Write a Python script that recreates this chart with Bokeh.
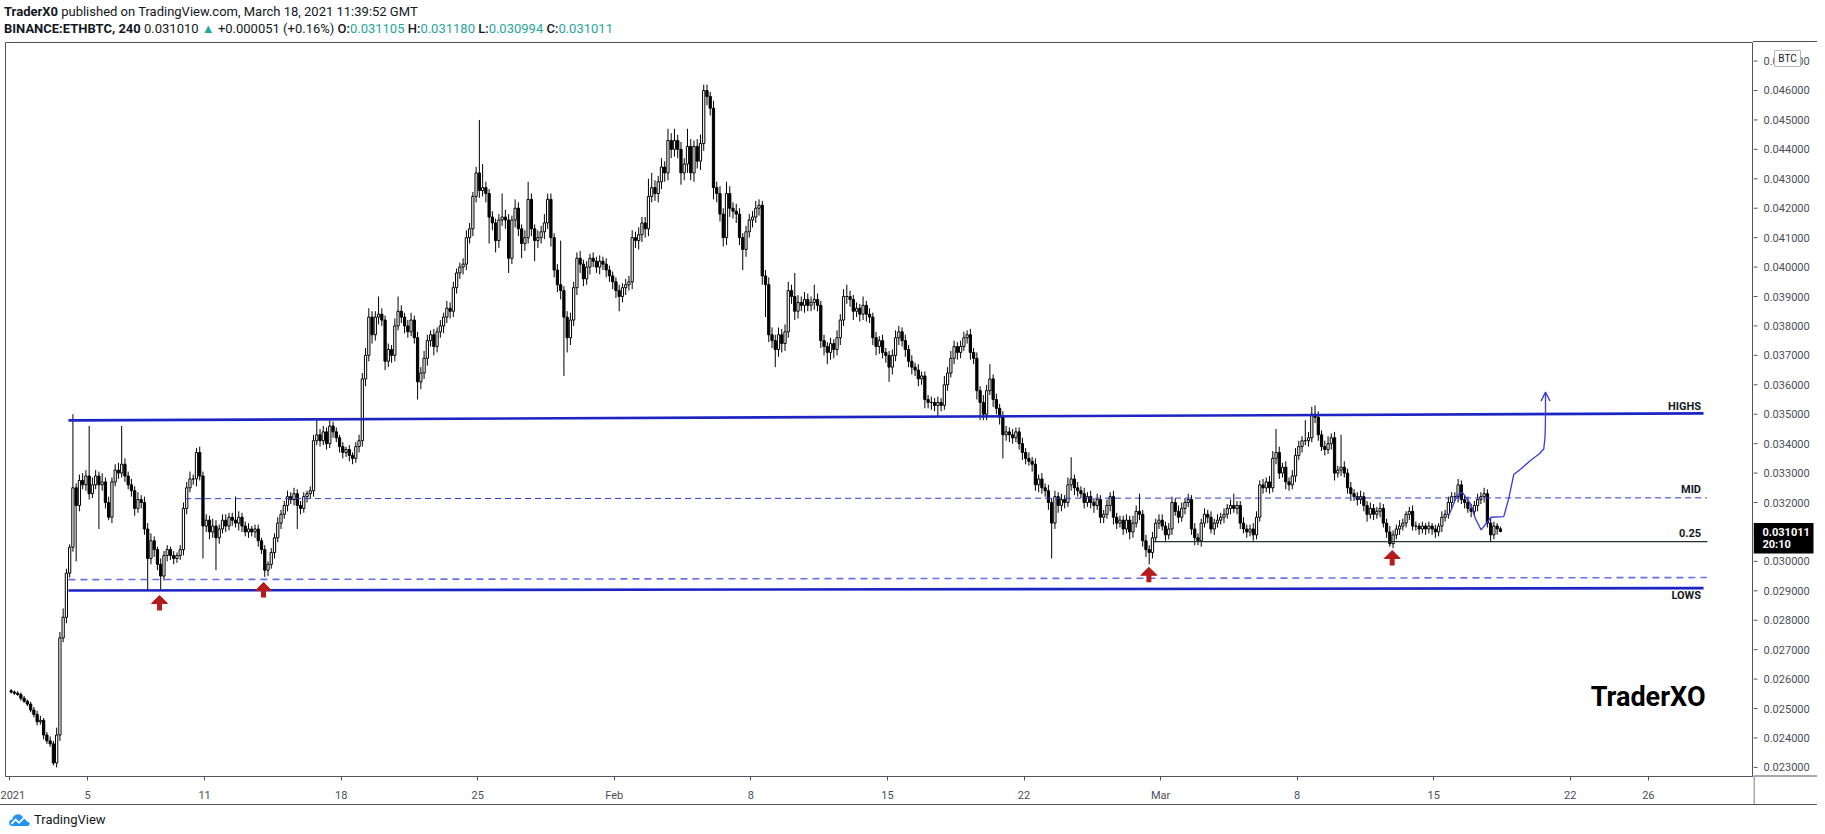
import numpy as np
from bokeh.plotting import figure
from bokeh.models import (Range1d, FixedTicker, Div, ColumnDataSource, Arrow, OpenHead)
from bokeh.layouts import column, row
from bokeh.embed import file_html
from bokeh.resources import INLINE
from bokeh.core.properties import value

FONT = "Roboto"
INK = "#131722"
AXIS = "#50535e"

# ---------------- data: ETHBTC 4h candles from 2021-01-01 00:00 UTC, in 1e-6 BTC ----------------
first_open = 25600
closes = [
    25560, 25520, 25480, 25350, 25250, 25150,
    24950, 24800, 24550, 24600, 24100, 23900,
    23800, 23150, 24100, 27400, 28100, 29600,
    30480, 32500, 31900, 32750, 32600, 32900,
    32300, 32600, 32900, 32600, 32700, 32000,
    31500, 32700, 33100, 33000, 33300, 32900,
    32600, 32400, 31800, 32100, 32000, 31100,
    30100, 30700, 30400, 29900, 29500, 30200,
    30400, 30200, 30100, 30200, 30400, 31800,
    32500, 32800, 32800, 33700, 32900, 31200,
    31400, 31000, 31200, 30800, 31100, 31400,
    31200, 31500, 31400, 31300, 31500, 31200,
    31000, 31100, 31000, 31100, 30700, 30400,
    29700, 29900, 30300, 30800, 31300, 31600,
    31900, 32200, 32100, 32300, 31900, 31800,
    32200, 32300, 32400, 34100, 34300, 34100,
    34400, 34000, 34600, 34400, 34200, 33900,
    33700, 33800, 33600, 33500, 33900, 34100,
    36200, 37000, 38300, 37700, 38300, 38400,
    38200, 36800, 37200, 37000, 38000, 38500,
    38300, 38000, 37800, 38200, 37600, 36100,
    36400, 36900, 37500, 37700, 37300, 37800,
    38000, 38300, 38600, 38500, 39300, 39800,
    40000, 40100, 41000, 41300, 42400, 43200,
    42600, 42700, 42500, 41700, 41500, 40900,
    41600, 41700, 41600, 40300, 41600, 42000,
    41300, 40800, 41000, 42300, 41300, 40900,
    41000, 41200, 41500, 42300, 41000, 39900,
    39400, 39200, 38300, 37600, 38200, 39300,
    40300, 40100, 39600, 40000, 40300, 40200,
    40000, 40200, 40100, 39900, 39700, 39500,
    39200, 39000, 39300, 39400, 39500, 41000,
    40900, 41100, 41500, 41300, 42400, 42700,
    42500, 42900, 43400, 43200, 44300, 44000,
    44300, 44000, 43200, 43500, 44100, 43200,
    44100, 43600, 44200, 46000, 45800, 45400,
    42700, 42500, 41800, 41000, 42500, 42000,
    41900, 41800, 41000, 40600, 41200, 41600,
    41700, 42000, 42100, 39700, 39400, 37700,
    37500, 37200, 37700, 37400, 37800, 39200,
    39000, 38500, 38800, 38700, 38900, 38700,
    38800, 38900, 38700, 37500, 37300, 37100,
    37400, 37200, 37600, 38200, 39000, 39000,
    38900, 38500, 38600, 38400, 38700, 38400,
    38300, 37600, 37300, 37500, 37100, 37000,
    36600, 37000, 37600, 37800, 37500, 37200,
    36800, 36600, 36500, 36200, 36300, 35500,
    35400, 35400, 35300, 35400, 35300, 36000,
    36400, 36900, 37300, 37100, 37300, 37600,
    37700, 37100, 36900, 35800, 35400, 35000,
    35800, 36200, 35500, 35200, 34900, 34300,
    34400, 34300, 34200, 34400, 34000, 33700,
    33500, 33400, 33300, 32600, 32800, 32500,
    32400, 32000, 31300, 32200, 31900, 32100,
    32000, 32600, 32800, 32500, 32400, 32300,
    32000, 32200, 32000, 31900, 32100, 31500,
    31600, 31900, 32200, 31500, 31300, 31400,
    31100, 31400, 31000, 31300, 31700, 31600,
    30700, 30400, 30300, 30800, 31300, 31400,
    31200, 30900, 31100, 32000, 31700, 31500,
    31800, 32000, 32100, 31100, 30800, 30700,
    31300, 31600, 31500, 31100, 31300, 31400,
    31500, 31600, 31800, 31900, 31800, 31900,
    31300, 31100, 31000, 31100, 30900, 31500,
    32600, 32500, 32700, 32500, 33500, 33700,
    33000, 33200, 32700, 32600, 32900, 33600,
    33900, 34100, 34100, 34200, 35000, 34900,
    34300, 33900, 33800, 34000, 34200, 33000,
    33100, 33200, 33000, 32500, 32300, 32200,
    32100, 32200, 31900, 31600, 31800, 31600,
    31700, 31800, 31300, 31000, 30600, 30900,
    31100, 31200, 31300, 31600, 31700, 31200,
    31200, 31100, 31200, 31100, 31200, 31100,
    31000, 31200, 31500, 31600, 32000, 32200,
    32200, 32600, 32100, 32000, 31800, 31700,
    31900, 32100, 32200, 32300, 31300, 30900,
    31200, 31105, 31011,
]
wick_up = [
    60, 50, 70, 60, 80, 50,
    80, 100, 120, 150, 80, 100,
    150, 100, 250, 200, 300, 150,
    100, 2500, 150, 200, 250, 200,
    1700, 250, 200, 150, 300, 150,
    200, 150, 200, 250, 1300, 200,
    150, 200, 150, 250, 150, 200,
    200, 250, 150, 100, 200, 150,
    150, 100, 150, 100, 150, 200,
    200, 250, 150, 150, 200, 150,
    200, 150, 250, 200, 150, 200,
    200, 150, 150, 800, 200, 150,
    150, 200, 100, 150, 150, 100,
    150, 100, 150, 150, 200, 150,
    150, 200, 150, 200, 150, 150,
    150, 100, 150, 200, 500, 200,
    200, 150, 200, 150, 150, 100,
    150, 100, 150, 100, 150, 200,
    200, 250, 300, 200, 200, 600,
    200, 150, 200, 150, 250, 500,
    200, 150, 200, 250, 150, 200,
    200, 250, 200, 150, 200, 150,
    200, 150, 250, 200, 200, 150,
    150, 200, 250, 200, 150, 200,
    1800, 800, 200, 150, 200, 150,
    200, 800, 250, 200, 150, 300,
    200, 150, 250, 600, 200, 150,
    250, 200, 300, 200, 200, 150,
    200, 1500, 150, 200, 250, 200,
    200, 250, 150, 200, 150, 200,
    150, 200, 150, 200, 150, 150,
    150, 200, 150, 200, 200, 250,
    200, 250, 200, 200, 600, 500,
    250, 200, 300, 200, 400, 250,
    400, 200, 250, 200, 600, 250,
    200, 250, 300, 200, 200, 150,
    250, 200, 250, 200, 400, 250,
    200, 250, 200, 150, 200, 200,
    200, 250, 200, 150, 200, 250,
    250, 200, 250, 200, 250, 300,
    200, 800, 250, 200, 250, 200,
    200, 500, 200, 150, 200, 150,
    200, 150, 250, 200, 250, 400,
    200, 150, 200, 150, 300, 150,
    200, 150, 200, 150, 200, 150,
    150, 200, 250, 200, 150, 200,
    150, 200, 150, 200, 150, 150,
    150, 200, 150, 200, 150, 300,
    200, 250, 200, 150, 200, 200,
    150, 200, 150, 200, 150, 250,
    200, 500, 150, 200, 150, 200,
    200, 150, 200, 150, 150, 200,
    150, 200, 150, 200, 150, 200,
    150, 200, 150, 200, 150, 200,
    150, 250, 740, 150, 200, 150,
    200, 150, 200, 150, 200, 150,
    150, 200, 150, 200, 150, 150,
    150, 200, 150, 250, 200, 600,
    150, 200, 150, 200, 150, 200,
    200, 150, 200, 200, 150, 200,
    200, 150, 200, 150, 200, 150,
    150, 200, 150, 200, 150, 200,
    150, 200, 150, 200, 400, 150,
    150, 200, 150, 150, 200, 200,
    150, 200, 150, 200, 250, 800,
    200, 150, 200, 150, 200, 250,
    200, 150, 700, 200, 250, 300,
    200, 150, 200, 250, 150, 200,
    150, 1100, 200, 150, 200, 150,
    150, 200, 150, 150, 200, 150,
    150, 200, 150, 150, 200, 150,
    150, 200, 150, 100, 150, 200,
    150, 100, 150, 100, 150, 100,
    150, 100, 200, 150, 200, 150,
    150, 200, 150, 150, 200, 150,
    150, 200, 150, 200, 150, 200,
    150, 100, 75,
]
wick_dn = [
    50, 60, 50, 80, 60, 70,
    80, 100, 120, 100, 150, 100,
    100, 80, 150, 200, 150, 200,
    150, 150, 1900, 200, 150, 200,
    200, 150, 150, 1500, 200, 200,
    100, 200, 150, 200, 150, 200,
    150, 200, 250, 150, 200, 200,
    1100, 200, 250, 200, 500, 150,
    200, 150, 200, 150, 150, 200,
    200, 150, 200, 250, 150, 1100,
    200, 250, 200, 1100, 200, 150,
    200, 150, 200, 150, 250, 200,
    150, 200, 150, 200, 200, 150,
    230, 200, 150, 200, 150, 200,
    150, 200, 150, 200, 800, 200,
    150, 200, 150, 200, 150, 200,
    150, 200, 150, 200, 150, 200,
    200, 150, 200, 200, 150, 200,
    200, 250, 200, 300, 200, 250,
    200, 300, 200, 250, 200, 150,
    200, 250, 200, 150, 200, 600,
    250, 200, 250, 200, 300, 200,
    200, 250, 200, 250, 200, 200,
    200, 250, 200, 200, 250, 200,
    250, 200, 300, 900, 250, 400,
    250, 200, 300, 500, 200, 250,
    250, 500, 250, 200, 250, 700,
    250, 200, 250, 200, 300, 250,
    250, 300, 2000, 500, 250, 200,
    250, 300, 250, 200, 250, 200,
    200, 250, 200, 250, 200, 250,
    250, 500, 200, 250, 200, 250,
    250, 300, 250, 300, 250, 200,
    250, 300, 250, 300, 250, 300,
    250, 300, 400, 250, 300, 250,
    300, 250, 300, 250, 300, 250,
    400, 300, 250, 300, 250, 300,
    250, 300, 250, 700, 250, 200,
    250, 200, 250, 300, 1100, 250,
    250, 600, 250, 300, 250, 200,
    250, 300, 250, 200, 250, 200,
    200, 250, 200, 250, 300, 400,
    250, 300, 200, 250, 200, 250,
    250, 300, 200, 250, 200, 250,
    200, 250, 300, 250, 200, 250,
    500, 250, 200, 250, 200, 250,
    200, 250, 200, 250, 200, 300,
    200, 250, 200, 400, 200, 150,
    200, 150, 200, 250, 200, 150,
    200, 250, 200, 300, 600, 200,
    200, 150, 250, 200, 250, 800,
    200, 250, 200, 150, 200, 250,
    200, 150, 250, 200, 250, 200,
    200, 250, 1200, 200, 250, 200,
    200, 150, 200, 250, 200, 150,
    200, 150, 200, 250, 150, 200,
    200, 150, 200, 250, 200, 150,
    200, 150, 250, 200, 150, 200,
    200, 250, 400, 200, 150, 200,
    150, 200, 150, 200, 150, 200,
    150, 200, 150, 200, 250, 150,
    200, 150, 200, 150, 200, 150,
    150, 200, 150, 200, 150, 200,
    200, 150, 200, 150, 200, 150,
    150, 200, 150, 200, 150, 200,
    200, 150, 250, 200, 150, 200,
    150, 200, 150, 200, 150, 200,
    200, 150, 200, 150, 200, 250,
    150, 200, 150, 200, 250, 150,
    200, 150, 200, 250, 150, 200,
    150, 200, 150, 200, 100, 150,
    150, 200, 150, 150, 200, 150,
    150, 200, 150, 200, 150, 200,
    200, 150, 200, 150, 150, 200,
    150, 200, 150, 200, 150, 200,
    150, 200, 150, 200, 150, 250,
    150, 200, 17,
]

# axis ticks (x in days since 2021-01-01)
x_ticks = [0, 4, 10, 17, 24, 31, 38, 45, 52, 59, 66, 73, 80, 84]
x_tick_labels = ["2021", "5", "11", "18", "25", "Feb", "8", "15", "22", "Mar", "8", "15", "22", "26"]
y_ticks = [0.023, 0.024, 0.025, 0.026, 0.027, 0.028, 0.029, 0.030, 0.031, 0.032, 0.033, 0.034,
           0.035, 0.036, 0.037, 0.038, 0.039, 0.040, 0.041, 0.042, 0.043, 0.044, 0.045, 0.046, 0.047]

# drawn levels
highs_x, highs_y = [3.02, 86.83], [0.03479, 0.03503]
lows_x, lows_y = [3.02, 86.83], [0.02901, 0.02909]
mid_x, mid_y = [9.0, 87.0], [0.03213, 0.03216]
lowdash_x, lowdash_y = [3.02, 87.0], [0.02938, 0.02945]
q25_x, q25_y = [58.64, 87.03], [0.03067, 0.03067]
level_text = ["HIGHS", "MID", "0.25", "LOWS"]
level_text_x = [86.7, 86.7, 86.7, 86.7]
level_text_y = [0.03527, 0.03244, 0.03098, 0.02884]

# red bounce arrows (tip positions)
arrow_days = [7.69, 13.02, 58.40, 70.87]
arrow_tips = [0.02884, 0.02928, 0.02980, 0.03037]

# projected path
proj_x = [73.77, 74.20, 74.46, 74.88, 75.14, 75.43, 75.74, 75.94, 76.59, 76.85, 77.10, 77.45,
          77.96, 78.40, 78.64, 78.70, 78.72, 78.73]
proj_y = [0.03156, 0.03224, 0.03235, 0.03196, 0.03145, 0.03107, 0.03133, 0.03150, 0.03152, 0.03215,
          0.03295, 0.03313, 0.03343, 0.03365, 0.03382, 0.03420, 0.03455, 0.03501]
proj_tip = 0.03575

last_price = "0.031011"
countdown = "20:10"
currency = "BTC"
currency_badge_y = 0.04709
header_line1 = ("TraderX0", " published on TradingView.com, March 18, 2021 11:39:52 GMT")
header_symbol = "BINANCE:ETHBTC, 240"
header_change = ("0.031010", "+0.000051 (+0.16%)")
header_ohlc = [("O:", "0.031105"), ("H:", "0.031180"), ("L:", "0.030994"), ("C:", "0.031011")]

# ---------------- build candles ----------------
c = np.array(closes, dtype=float) / 1e6
o = np.r_[first_open / 1e6, c[:-1]]
top = np.maximum(o, c)
bot = np.minimum(o, c)
hi = top + np.array(wick_up) / 1e6
lo = bot - np.array(wick_dn) / 1e6
t = np.arange(len(c)) / 6.0 + 1.0 / 12.0
fill = np.where(c >= o, "white", "black")
src = ColumnDataSource(dict(t=t, top=top, bot=bot, hi=hi, lo=lo, fill=fill))

X0, X1 = -0.205, 89.39
Y0, Y1 = 0.02269, 0.047631
FW, FH = 1748, 734
AW = 64
XAX_H = 28
ppd = FW / (X1 - X0)
ppu = FH / (Y1 - Y0)

p = figure(frame_width=FW, frame_height=FH, x_range=Range1d(X0, X1), y_range=Range1d(Y0, Y1),
           y_axis_location=None, toolbar_location=None, output_backend="svg",
           min_border_left=5, min_border_right=0, min_border_top=0, min_border_bottom=XAX_H,
           background_fill_color="white", border_fill_color="white")
p.grid.visible = False
p.outline_line_color = AXIS
p.outline_line_width = 1

xa = p.xaxis[0]
xa.ticker = FixedTicker(ticks=x_ticks)
xa.major_label_overrides = dict(zip(x_ticks, x_tick_labels))
xa.axis_line_color = AXIS
xa.major_tick_line_color = AXIS
xa.major_tick_in = 0
xa.major_tick_out = 4
xa.minor_tick_line_color = None
xa.major_label_text_font = FONT
xa.major_label_text_font_size = "11px"
xa.major_label_text_color = "#4a4d57"
xa.major_label_standoff = 8

# candles
p.segment(x0="t", y0="lo", x1="t", y1="hi", source=src, line_color="black", line_width=1)
p.vbar(x="t", width=0.115, top="top", bottom="bot", source=src, fill_color="fill",
       line_color="black", line_width=1)

# levels
p.line(lowdash_x, lowdash_y, line_color="#6a70e4", line_width=1.6, line_dash="7 5")
p.line(mid_x, mid_y, line_color="#2f39d4", line_width=1, line_dash="6 4")
p.line(q25_x, q25_y, line_color="#2a2e39", line_width=1.2)
p.line(highs_x, highs_y, line_color="#1c24c4", line_width=2.6)
p.line(lows_x, lows_y, line_color="#1c24c4", line_width=2.6)
p.text(x=level_text_x, y=level_text_y, text=level_text, text_align="right", text_baseline="middle",
       text_font=value(FONT), text_font_size="11px", text_font_style="bold", text_color=INK)

# projected path with arrow
p.line(proj_x, proj_y, line_color="#3a3ad8", line_width=1.3)
p.add_layout(Arrow(end=OpenHead(size=9, line_color="#3a3ad8", line_width=1.3),
                   x_start=proj_x[-1], y_start=proj_y[-1], x_end=proj_x[-1], y_end=proj_tip,
                   line_color="#3a3ad8", line_width=1.3))

# red arrows
RED = "#b71c1c"
ad = np.array(arrow_days)
at = np.array(arrow_tips)
head_xs = [[x - 8 / ppd, x, x + 8 / ppd] for x in ad]
head_ys = [[y - 8 / ppu, y, y - 8 / ppu] for y in at]
p.patches(head_xs, head_ys, fill_color=RED, line_color=RED, line_width=1)
p.quad(left=ad - 2.5 / ppd, right=ad + 2.5 / ppd, top=at - 7 / ppu, bottom=at - 15 / ppu,
       fill_color=RED, line_color=None)

# watermark
p.text(x=[86.93], y=[0.025375], text=["TraderXO"], text_align="right", text_baseline="middle",
       text_font=value(FONT), text_font_size="27px", text_font_style="bold", text_color="#000000")

# ---------------- price scale panel (same price-per-pixel, extends over the date strip) ----------------
pa = figure(frame_width=AW, frame_height=FH + XAX_H, x_range=Range1d(0, AW),
            y_range=Range1d(Y0 - XAX_H / ppu, Y1),
            x_axis_location=None, y_axis_location=None, toolbar_location=None,
            output_backend="svg", min_border_left=0, min_border_right=0, min_border_top=0,
            min_border_bottom=0, background_fill_color="white", border_fill_color="white")
pa.grid.visible = False
pa.outline_line_color = None
n_t = len(y_ticks)
pa.segment(x0=[0] * n_t, x1=[4] * n_t, y0=y_ticks, y1=y_ticks, line_color=AXIS, line_width=1)
pa.segment(x0=[0.5], x1=[0.5], y0=[Y0 - XAX_H / ppu], y1=[Y0], line_color=AXIS, line_width=1)
pa.segment(x0=[0], x1=[AW], y0=[Y0 + 0.5 / ppu], y1=[Y0 + 0.5 / ppu], line_color=AXIS, line_width=1)
pa.text(x=[10] * n_t, y=y_ticks, text=[f"{v:.6f}" for v in y_ticks], text_baseline="middle",
        text_align="left", text_font=value(FONT), text_font_size="11px", text_color="#4a4d57")
# currency badge
pa.quad(left=[21], right=[47], top=[currency_badge_y + 8 / ppu], bottom=[currency_badge_y - 8 / ppu],
        fill_color="white", line_color="#b2b5be", line_width=1)
pa.text(x=[34], y=[currency_badge_y], text=[currency], text_align="center", text_baseline="middle",
        text_font=value(FONT), text_font_size="10px", text_color=INK)
# last price box
lp = float(c[-1])
pa.quad(left=[0], right=[60], top=[lp + 8.5 / ppu], bottom=[lp - 22 / ppu],
        fill_color="black", line_color=None)
pa.text(x=[9, 9], y=[lp, lp - 13 / ppu], text=[last_price, countdown], text_baseline="middle",
        text_align="left", text_font=value(FONT), text_font_size="11px", text_font_style="bold",
        text_color="white")

TEAL = "#26a69a"
ohlc_html = " ".join(f'<span style="font-weight:500">{k}</span><span style="color:{TEAL}">{v}</span>'
                     for k, v in header_ohlc)
header_html = (
    f'<div style="font-family:{FONT};font-size:13px;line-height:17px;color:{INK};'
    f'white-space:nowrap;width:1817px;height:42px;position:relative;box-sizing:border-box;'
    f'padding:3px 0 0 4px">'
    f'<b>{header_line1[0]}</b>{header_line1[1]}<br>'
    f'<b>{header_symbol}</b> {header_change[0]} <span style="color:{TEAL}">&#9650;</span> '
    f'{header_change[1]} {ohlc_html}'
    f'<div style="position:absolute;left:1753px;top:41px;width:64px;height:1px;background:{AXIS}"></div>'
    f'</div>')
header = Div(text=header_html, width=1817, height=42, margin=(0, 0, 0, 0))

logo_svg = ('<svg width="22" height="14" viewBox="0 0 20 13" style="vertical-align:-2px">'
            '<path d="M3 13a3 3 0 0 1 0-6 5 5 0 0 1 9.5-2 4 4 0 0 1 4.5 4 2 2 0 0 1 0 4z" fill="#2196f3"/>'
            '<path d="M2 11l4-4 3 3 5-5 4 4" stroke="#fff" stroke-width="1.6" fill="none"/></svg>')
footer_html = (
    f'<div style="width:1817px;height:28px;border-top:1px solid {AXIS};font-family:{FONT};'
    f'font-size:13px;line-height:22px;color:{INK};white-space:nowrap;padding:4px 0 0 9px;'
    f'box-sizing:border-box">'
    f'{logo_svg} TradingView</div>')
footer = Div(text=footer_html, width=1817, height=28, margin=(0, 0, 0, 0))

layout = column(header, row(p, pa), footer)
open("out.html", "w").write(file_html(layout, INLINE))
